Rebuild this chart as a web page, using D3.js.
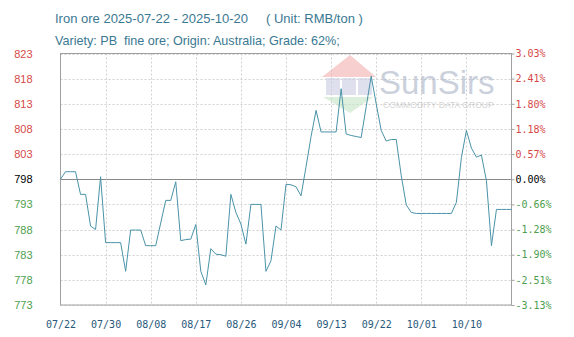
<!DOCTYPE html>
<html>
<head>
<title>Iron ore price</title>
<script src="https://d3js.org/d3.v7.min.js"></script>
<style>
body { margin: 0; background: #fff; }
#chart_svg { width: 574px; height: 337px; display: block; }
</style>
<script>
// daily price, 07/22 .. 10/20 (RMB/ton)
var priceValues = [
  798, 799.5, 799.5, 799.5, 795, 795, 788.7, 788, 798.5, 785.4,
  785.4, 785.4, 785.4, 779.7, 787.9, 787.9, 787.9, 784.8, 784.8, 784.8,
  789.3, 793.8, 793.8, 797.5, 785.8, 786, 786.1, 789, 779.7, 777,
  784.2, 783.1, 783, 782.7, 795, 791.4, 789.1, 785.1, 793, 793,
  793, 779.7, 781.8, 788.7, 787.9, 797, 796.9, 796.5, 794.7, 800.5,
  806.5, 811.7, 807.4, 807.4, 807.4, 807.4, 816, 807, 806.7, 806.5,
  806.3, 812.4, 818.5, 813, 807.7, 805.6, 805.9, 805.9, 798.7, 792.9,
  791.4, 791.2, 791.2, 791.2, 791.2, 791.2, 791.2, 791.2, 791.2, 793.4,
  802.3, 807.7, 804.2, 802.4, 802.8, 797.7, 784.8, 792, 792, 792,
  792
];
var xTickIndex = [0, 9, 18, 27, 36, 45, 54, 63, 72, 81];
var xTickLabels = ['07/22', '07/30', '08/08', '08/17', '08/26', '09/04', '09/13', '09/22', '10/01', '10/10'];
var yTicks = [823, 818, 813, 808, 803, 798, 793, 788, 783, 778, 773];
var pctLabels = ['3.03%', '2.41%', '1.80%', '1.18%', '0.57%', '0.00%', '-0.66%', '-1.28%', '-1.90%', '-2.51%', '-3.13%'];
var baseValue = 798;

var RED = '#d64848';
var GREEN = '#4e9e4e';

var drawChart = function() {
  var svg = d3.select('#chart_svg');
  var left = 60.5, right = 511.5, top = 53.5, bottom = 305;

  var x = d3.scaleLinear().domain([0, priceValues.length - 1]).range([left, right]);
  var y = d3.scaleLinear().domain([773, 823]).range([bottom, top]);

  var labelColor = function(v) {
    if (v > baseValue) return RED;
    if (v < baseValue) return GREEN;
    return '#000';
  };

  // titles
  svg.append('text').attr('x', 55).attr('y', 23)
    .attr('font-family', 'Liberation Sans, Arial, sans-serif').attr('font-size', 13)
    .attr('fill', '#3a7892').attr('xml:space', 'preserve')
    .text('Iron ore 2025-07-22 - 2025-10-20     ( Unit: RMB/ton )');
  svg.append('text').attr('x', 55).attr('y', 45)
    .attr('font-family', 'Liberation Sans, Arial, sans-serif').attr('font-size', 12.6)
    .attr('fill', '#3a7892').attr('xml:space', 'preserve')
    .text('Variety: PB  fine ore; Origin: Australia; Grade: 62%;');

  // grid
  var grid = svg.append('g');
  grid.selectAll('.hg').data(yTicks).enter().append('line')
    .attr('x1', left).attr('x2', right)
    .attr('y1', function(d) { return Math.round(y(d)) + 0.5; })
    .attr('y2', function(d) { return Math.round(y(d)) + 0.5; })
    .attr('stroke', function(d) { return d === baseValue ? '#888' : '#d0d0d0'; })
    .attr('stroke-dasharray', function(d) { return d === baseValue ? null : '2,2'; });
  grid.selectAll('.vg').data(xTickIndex.slice(1)).enter().append('line')
    .attr('y1', top).attr('y2', bottom)
    .attr('x1', function(d) { return Math.round(x(d)) + 0.5; })
    .attr('x2', function(d) { return Math.round(x(d)) + 0.5; })
    .attr('stroke', '#d0d0d0').attr('stroke-dasharray', '2,2');

  // watermark
  var wm = svg.append('g').attr('opacity', 0.6);
  wm.append('polygon').attr('points', '350,55 322,77 376,77').attr('fill', '#f2b0b0');
  wm.append('rect').attr('x', 326).attr('y', 78).attr('width', 14).attr('height', 17).attr('fill', '#c9cde2');
  wm.append('rect').attr('x', 342).attr('y', 78).attr('width', 14).attr('height', 17).attr('fill', '#c9cde2');
  wm.append('rect').attr('x', 358).attr('y', 78).attr('width', 14).attr('height', 17).attr('fill', '#c9cde2');
  wm.append('polygon').attr('points', '323,97 373,97 350,113').attr('fill', '#c6e4c6');
  wm.append('text').attr('x', 379).attr('y', 94)
    .attr('font-family', 'Liberation Sans, Arial, sans-serif').attr('font-size', 33)
    .attr('fill', '#a9b3c6').text('SunSirs');
  wm.append('text').attr('x', 383).attr('y', 108)
    .attr('font-family', 'Liberation Sans, Arial, sans-serif').attr('font-size', 8.6)
    .attr('fill', '#b8b8b8').text('COMMODITY DATA GROUP');

  // frame
  svg.append('rect').attr('x', left).attr('y', top)
    .attr('width', right - left).attr('height', bottom - top)
    .attr('fill', 'none').attr('stroke', '#a0a0a0');

  // left axis
  var yAxisL = d3.axisLeft(y).tickValues(yTicks).tickSize(0).tickPadding(28);
  var gl = svg.append('g').attr('transform', 'translate(' + left + ',0)').call(yAxisL);
  gl.select('.domain').remove();
  gl.selectAll('text')
    .attr('font-family', 'Liberation Sans, Arial, sans-serif').attr('font-size', 11)
    .attr('fill', function(d) { return labelColor(d); });

  // right axis
  var yAxisR = d3.axisRight(y).tickValues(yTicks).tickSize(3).tickPadding(1)
    .tickFormat(function(d, i) { return pctLabels[i]; });
  var gr = svg.append('g').attr('transform', 'translate(' + right + ',0)').call(yAxisR);
  gr.select('.domain').remove();
  gr.selectAll('line').attr('stroke', '#a0a0a0');
  gr.selectAll('text')
    .attr('font-family', 'DejaVu Sans Mono, monospace').attr('font-size', 10)
    .attr('fill', function(d) { return labelColor(d); });

  // bottom axis
  var xAxis = d3.axisBottom(x).tickValues(xTickIndex).tickSize(0).tickPadding(16)
    .tickFormat(function(d, i) { return xTickLabels[i]; });
  var gb = svg.append('g').attr('transform', 'translate(0,' + bottom + ')').call(xAxis);
  gb.select('.domain').remove();
  gb.selectAll('text')
    .attr('font-family', 'DejaVu Sans Mono, monospace').attr('font-size', 10)
    .attr('fill', '#28587a');

  // price line
  var line = d3.line()
    .x(function(d, i) { return x(i); })
    .y(function(d) { return y(d); });
  svg.append('path').datum(priceValues)
    .attr('d', line)
    .attr('fill', 'none')
    .attr('stroke', '#4a93a8')
    .attr('stroke-width', 1);
};

window.onload = function() {
  drawChart();
};
</script>
</head>
<body>
<svg id="chart_svg"></svg>
</body>
</html>
